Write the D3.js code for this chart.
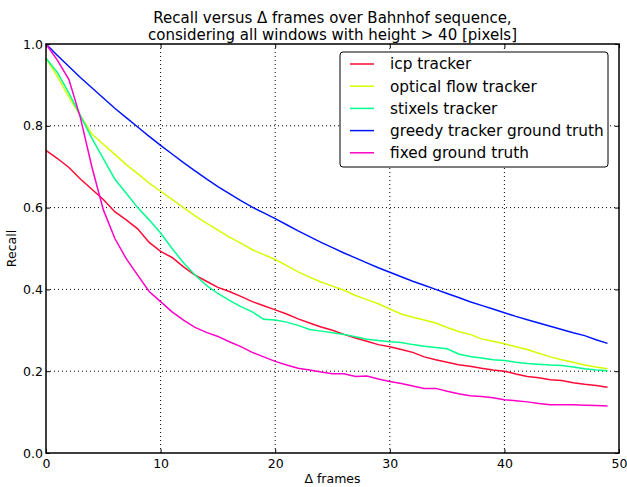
<!DOCTYPE html>
<html>
<head>
<meta charset="utf-8">
<script src="https://cdn.jsdelivr.net/npm/d3@7"></script>
<style>
  body { margin: 0; background: white; }
  text { font-family: "DejaVu Sans", sans-serif; }
</style>
</head>
<body>
<div id="chart"></div>
<script>
const frames = d3.range(0, 50);

const icp = [0.74, 0.72, 0.698, 0.67, 0.645, 0.62, 0.59, 0.57, 0.548, 0.515,
  0.493, 0.478, 0.455, 0.435, 0.42, 0.405, 0.395, 0.383, 0.37, 0.36,
  0.35, 0.34, 0.328, 0.318, 0.308, 0.3, 0.29, 0.281, 0.273, 0.265,
  0.26, 0.253, 0.246, 0.235, 0.228, 0.222, 0.216, 0.212, 0.207, 0.203,
  0.2, 0.193, 0.187, 0.184, 0.179, 0.177, 0.172, 0.168, 0.165, 0.161];

const opticalFlow = [0.965, 0.92, 0.87, 0.825, 0.78, 0.755, 0.73, 0.705, 0.683, 0.66,
  0.64, 0.62, 0.6, 0.58, 0.562, 0.545, 0.528, 0.513, 0.497, 0.485,
  0.473, 0.458, 0.443, 0.43, 0.418, 0.408, 0.398, 0.385, 0.375, 0.365,
  0.352, 0.34, 0.332, 0.325, 0.318, 0.307, 0.297, 0.29, 0.279, 0.273,
  0.267, 0.26, 0.253, 0.244, 0.235, 0.228, 0.222, 0.215, 0.21, 0.206];

const stixels = [0.965, 0.93, 0.88, 0.825, 0.77, 0.72, 0.67, 0.635, 0.6, 0.57,
  0.538, 0.5, 0.465, 0.435, 0.41, 0.39, 0.373, 0.358, 0.345, 0.327,
  0.325, 0.32, 0.312, 0.302, 0.298, 0.294, 0.29, 0.284, 0.278, 0.275,
  0.272, 0.27, 0.265, 0.261, 0.258, 0.255, 0.242, 0.236, 0.232, 0.228,
  0.226, 0.222, 0.219, 0.217, 0.215, 0.214, 0.21, 0.206, 0.203, 0.201];

const greedy = [1.0, 0.972, 0.945, 0.918, 0.893, 0.868, 0.843, 0.82, 0.797, 0.774,
  0.752, 0.731, 0.71, 0.69, 0.67, 0.651, 0.634, 0.617, 0.601, 0.587,
  0.573, 0.558, 0.543, 0.529, 0.515, 0.502, 0.489, 0.477, 0.465, 0.453,
  0.442, 0.431, 0.42, 0.41, 0.4, 0.39, 0.38, 0.37, 0.361, 0.352,
  0.343, 0.334, 0.326, 0.318, 0.31, 0.302, 0.294, 0.287, 0.277, 0.268];

const fixedGT = [1.0, 0.96, 0.913, 0.82, 0.7, 0.595, 0.525, 0.475, 0.435, 0.395,
  0.37, 0.345, 0.325, 0.307, 0.295, 0.285, 0.272, 0.26, 0.246, 0.235,
  0.224, 0.215, 0.207, 0.203, 0.198, 0.194, 0.194, 0.187, 0.188, 0.181,
  0.175, 0.17, 0.164, 0.158, 0.158, 0.151, 0.145, 0.14, 0.138, 0.135,
  0.13, 0.128, 0.125, 0.121, 0.118, 0.118, 0.118, 0.117, 0.116, 0.115];

const seriesNames = ["icp tracker", "optical flow tracker", "stixels tracker",
  "greedy tracker ground truth", "fixed ground truth"];
const seriesValues = [icp, opticalFlow, stixels, greedy, fixedGT];
const colors = ["#ff0a35", "#d2ff00", "#00ff8c", "#0015ff", "#ff00c8"];

const xTicks = [0, 10, 20, 30, 40, 50];
const yTicks = [0.0, 0.2, 0.4, 0.6, 0.8, 1.0];

const width = 627;
const height = 487;
const margin = {top: 44, right: 8, bottom: 34, left: 46};

const svg = d3.select('#chart')
              .append('svg')
              .attr('width', width)
              .attr('height', height)
              .style('background', 'white');

const x = d3.scaleLinear()
            .domain([0, 50])
            .range([margin.left, width - margin.right]);

const y = d3.scaleLinear()
            .domain([0, 1])
            .range([height - margin.bottom, margin.top]);

// dotted grid
svg.append("g")
   .selectAll("line")
   .data(xTicks.slice(1, -1))
   .enter()
   .append("line")
   .attr("x1", d => x(d)).attr("x2", d => x(d))
   .attr("y1", y(0)).attr("y2", y(1))
   .attr("stroke", "black")
   .attr("stroke-width", 1)
   .attr("stroke-dasharray", "1,3");

svg.append("g")
   .selectAll("line")
   .data(yTicks.slice(1, -1))
   .enter()
   .append("line")
   .attr("x1", x(0)).attr("x2", x(50))
   .attr("y1", d => y(d)).attr("y2", d => y(d))
   .attr("stroke", "black")
   .attr("stroke-width", 1)
   .attr("stroke-dasharray", "1,3");

// series lines
const line = d3.line()
               .x((d, i) => x(frames[i]))
               .y(d => y(d));

seriesValues.forEach((vals, i) => {
    svg.append("path")
       .datum(vals)
       .attr("d", line)
       .attr("fill", "none")
       .attr("stroke", colors[i])
       .attr("stroke-width", 1.5);
});

// frame
svg.append("rect")
   .attr("x", x(0))
   .attr("y", y(1))
   .attr("width", x(50) - x(0))
   .attr("height", y(0) - y(1))
   .attr("fill", "none")
   .attr("stroke", "black")
   .attr("stroke-width", 1.5);

// axes (ticks pointing inward)
const xAxis = svg.append("g")
   .attr("transform", `translate(0,${y(0)})`)
   .call(d3.axisBottom(x).tickValues(xTicks).tickFormat(d3.format("d")).tickSizeInner(-4).tickSizeOuter(0).tickPadding(6));
xAxis.select(".domain").remove();
xAxis.selectAll("text").style("font-size", "12.5px").style("font-family", "DejaVu Sans").attr("fill", "black");

svg.append("g")
   .attr("transform", `translate(0,${y(1)})`)
   .call(d3.axisTop(x).tickValues(xTicks).tickFormat("").tickSizeInner(-4).tickSizeOuter(0))
   .select(".domain").remove();

const yAxis = svg.append("g")
   .attr("transform", `translate(${x(0)},0)`)
   .call(d3.axisLeft(y).tickValues(yTicks).tickFormat(d3.format(".1f")).tickSizeInner(-4).tickSizeOuter(0).tickPadding(3));
yAxis.select(".domain").remove();
yAxis.selectAll("text").style("font-size", "12.5px").style("font-family", "DejaVu Sans").attr("fill", "black");

svg.append("g")
   .attr("transform", `translate(${x(50)},0)`)
   .call(d3.axisRight(y).tickValues(yTicks).tickFormat("").tickSizeInner(-4).tickSizeOuter(0))
   .select(".domain").remove();

// titles
svg.append("text")
   .attr("x", (x(0) + x(50)) / 2)
   .attr("y", 23)
   .attr("text-anchor", "middle")
   .style("font-size", "15px")
   .text("Recall versus Δ frames over Bahnhof sequence,");

svg.append("text")
   .attr("x", (x(0) + x(50)) / 2)
   .attr("y", 40)
   .attr("text-anchor", "middle")
   .style("font-size", "15px")
   .text("considering all windows with height > 40 [pixels]");

svg.append("text")
   .attr("x", (x(0) + x(50)) / 2)
   .attr("y", 483)
   .attr("text-anchor", "middle")
   .style("font-size", "12.5px")
   .text("Δ frames");

svg.append("text")
   .attr("transform", `translate(16,${(y(0) + y(1)) / 2}) rotate(-90)`)
   .attr("text-anchor", "middle")
   .style("font-size", "12.5px")
   .text("Recall");

// legend
const legendX = 340;
const legendY = 52;

svg.append("rect")
   .attr("x", legendX)
   .attr("y", legendY)
   .attr("width", 268)
   .attr("height", 115)
   .attr("rx", 3)
   .attr("fill", "white")
   .attr("stroke", "black")
   .attr("stroke-width", 1);

const legend = svg.append("g")
   .attr("transform", `translate(${legendX}, ${legendY})`);

seriesNames.forEach((label, i) => {
    legend.append("line")
          .attr("x1", 10).attr("x2", 34)
          .attr("y1", 12 + i * 22.2).attr("y2", 12 + i * 22.2)
          .attr("stroke", colors[i])
          .attr("stroke-width", 1.5);

    legend.append("text")
          .attr("x", 50)
          .attr("y", 12 + i * 22.2)
          .attr("dy", "0.35em")
          .style("font-size", "15.3px")
          .text(label);
});
</script>
</body>
</html>
